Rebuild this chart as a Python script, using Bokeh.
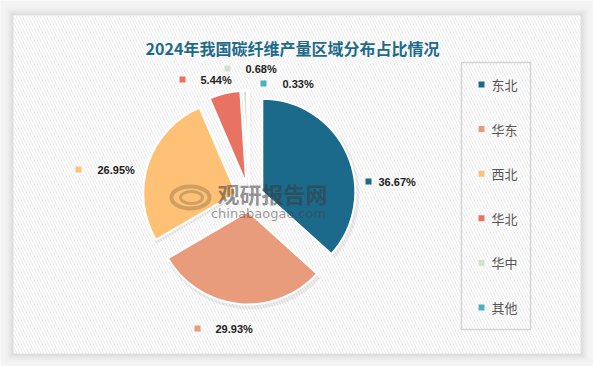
import numpy as np
from bokeh.plotting import figure
from bokeh.models import Range1d, ColumnDataSource
from bokeh.core.properties import value
from bokeh.embed import file_html
from bokeh.resources import INLINE

# ---- data ----
title = "2024年我国碳纤维产量区域分布占比情况"
regions = ["东北", "华东", "西北", "华北", "华中", "其他"]
shares = [36.67, 29.93, 26.95, 5.44, 0.68, 0.33]
colors = ["#1B6A8C", "#E89C7B", "#FEC176", "#E87362", "#D2E0CE", "#4AB2BE"]

# ---- layout (page pixel coordinates) ----
W, H = 593, 366
def Y(py):
    return H - py

cx, cy = 249, Y(197)
R = 93
EXPLODE = 14
# label marker positions (x, y) and text start x, page coords
label_marker = [(368, 181), (197, 328), (78, 169), (182, 79), (227, 68), (263, 83)]
label_text_x = [378, 215, 97, 200, 245, 282]

p = figure(width=W, height=H, output_backend="svg", toolbar_location=None,
           x_range=Range1d(0, W), y_range=Range1d(0, H), min_border=0)
p.axis.visible = False
p.grid.visible = False
p.outline_line_color = None
p.background_fill_color = "#F4F4F4"
p.border_fill_color = "#F4F4F4"

# panel with soft shadow
for k, a in [(8, 0.015), (6, 0.02), (4, 0.025), (2, 0.03)]:
    p.quad(left=13 - k, right=580 + k, top=Y(15 - k), bottom=Y(353 + k),
           fill_color="#000000", fill_alpha=a, line_color=None)
p.quad(left=13, right=580, top=Y(15), bottom=Y(353), fill_color="#FFFFFF",
       line_color=None, hatch_pattern="\\", hatch_color="#EBEBEB",
       hatch_scale=6, hatch_weight=1)

# title
p.text(x=[292], y=[Y(47)], text=[title], text_align="center", text_baseline="middle",
       text_font=value("Noto Sans CJK SC"), text_font_style="bold",
       text_font_size="16px", text_color="#1D6A8A")

# pie
vals = np.array(shares, dtype=float)
frac = vals / vals.sum()
cum = np.concatenate([[0], np.cumsum(frac)])
start = np.pi / 2 - cum[:-1] * 2 * np.pi
end = np.pi / 2 - cum[1:] * 2 * np.pi
mid = (start + end) / 2
xs = cx + EXPLODE * np.cos(mid)
ys = cy + EXPLODE * np.sin(mid)

src = ColumnDataSource(dict(x=xs, y=ys, start=start, end=end, color=colors,
                            sx=xs + 2, sy=ys - 3))
p.wedge(x="sx", y="sy", radius=R + 2, start_angle="start", end_angle="end",
        direction="clock", fill_color="#000000", fill_alpha=0.07, line_color=None,
        source=src)
p.wedge(x="x", y="y", radius=R, start_angle="start", end_angle="end",
        direction="clock", fill_color="color", line_color="#FFFFFF", line_width=2,
        source=src)

# watermark
p.text(x=[272], y=[Y(192)], text=["观研报告网"], text_align="center", text_baseline="middle",
       text_font=value("Noto Sans CJK SC"), text_font_style="bold",
       text_font_size="22px", text_color="#3A3A3A", text_alpha=0.55)
p.text(x=[268], y=[Y(213)], text=["chinabaogao.com"], text_align="center", text_baseline="middle",
       text_font=value("DejaVu Sans"), text_font_size="13px",
       text_color="#444444", text_alpha=0.55)
p.ellipse(x=[190, 191], y=[Y(197), Y(197)], width=[38, 22], height=[22, 12],
          fill_color=None, line_color="#8A6E45", line_width=[4, 3], line_alpha=0.4)

# data labels
lbl = ColumnDataSource(dict(
    mx=[m[0] for m in label_marker], my=[Y(m[1]) for m in label_marker],
    tx=label_text_x, ty=[Y(m[1]) for m in label_marker],
    text=[f"{v:.2f}%" for v in shares], color=colors))
p.rect(x="mx", y="my", width=6, height=6, fill_color="color", line_color=None, source=lbl)
p.text(x="tx", y="ty", text="text", text_baseline="middle", text_align="left",
       text_font=value("Liberation Sans"), text_font_style="bold",
       text_font_size="11px", text_color="#222222", source=lbl)

# legend box
p.quad(left=461, right=530, top=Y(62), bottom=Y(329), fill_color=None,
       line_color="#D3D3D3", line_width=1.5)
leg_y = [Y(84 + i * 44.6) for i in range(len(regions))]
leg = ColumnDataSource(dict(x=[481] * len(regions), y=leg_y, tx=[491] * len(regions),
                            text=regions, color=colors))
p.rect(x="x", y="y", width=6, height=6, fill_color="color", line_color=None, source=leg)
p.text(x="tx", y="y", text="text", text_baseline="middle", text_align="left",
       text_font=value("Noto Sans CJK SC"), text_font_size="13px",
       text_color="#555555", source=leg)

open("out.html", "w").write(file_html(p, INLINE))
